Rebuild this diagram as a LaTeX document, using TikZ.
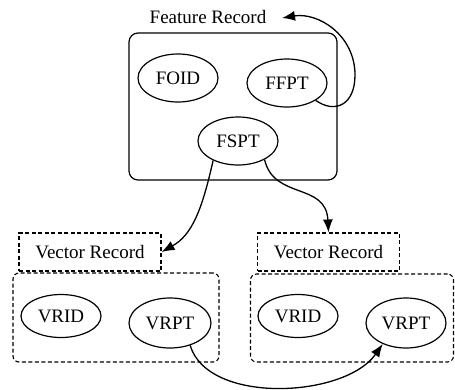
\documentclass[tikz,border=0pt]{standalone}
\usepackage{fontspec}
\setmainfont{Liberation Serif}
\usetikzlibrary{shapes.geometric,arrows.meta}
\begin{document}
\begin{tikzpicture}[x=1pt,y=-1pt,font=\fontsize{19}{22}\selectfont]
       \tikzstyle{field}=[ellipse, draw, line width=1.2pt, minimum width=80pt, minimum height=48pt, inner sep=0pt]
       \tikzstyle{record}=[draw, line width=1.2pt, rounded corners=9pt, inner sep=0pt]
       \tikzstyle{vecbox}=[draw, dashed, dash pattern=on 4pt off 2.5pt, line width=1.1pt, inner sep=0pt]
       \tikzstyle{link}=[line width=1.3pt, -{Latex[length=13pt,width=10pt]}]
       \useasboundingbox (0,0) rectangle (455,389);
       % feature record
       \node (ftitle) at (208,17) {Feature Record};
       \node[record, minimum width=208pt, minimum height=147pt] (frec) at (233,106.5) {};
       \node[field] (foid) at (178,78) {FOID};
       \node[field] (ffpt) at (287,83) {FFPT};
       \node[field] (fspt) at (238,141) {FSPT};
       \coordinate (ftip) at (282,18);
       % vector records
       \node[vecbox, minimum width=142pt, minimum height=38pt] (vtitlea) at (90,252) {Vector Record};
       \node[vecbox, minimum width=142pt, minimum height=38pt] (vtitleb) at (328.5,252) {Vector Record};
       \node[vecbox, rounded corners=6pt, minimum width=206pt, minimum height=89pt] (vreca) at (116,317.5) {};
       \node[vecbox, rounded corners=6pt, minimum width=203pt, minimum height=88pt] (vrecb) at (352,318) {};
       \node[field, minimum height=43pt] (vrida) at (61,316) {VRID};
       \node[field, minimum width=82pt, minimum height=50pt] (vrpta) at (170,323) {VRPT};
       \node[field, minimum height=43pt] (vridb) at (298,316) {VRID};
       \node[field, minimum height=50pt] (vrptb) at (406,323) {VRPT};
       % pointers
       \draw[link] (ffpt.south east) .. controls (335,114) and (355,105) .. (355,75)
                   .. controls (355,35) and (318,12) .. (ftip);
       \draw[link] (fspt.-142) .. controls (202,210) and (192,235) .. (vtitlea.east);
       \draw[link] (fspt.-35) .. controls (274,200) and (326,182) .. (vtitleb.north);
       \draw[link] (vrpta.-48) .. controls (208,405) and (345,398) .. (vrptb.-138);
\end{tikzpicture}
\end{document}
